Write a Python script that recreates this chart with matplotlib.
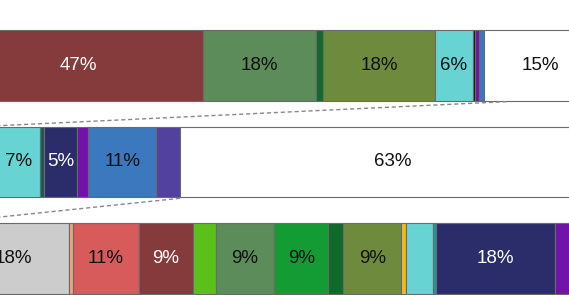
import numpy as np
import matplotlib
matplotlib.use('Agg')
import matplotlib.pyplot as plt

plt.rcParams['font.family'] = ['Liberation Sans', 'DejaVu Sans']

# top bar
top_start = -7.5
top_widths = [40.0, 18.1, 1.1, 17.9, 6.1, 0.3, 0.6, 0.8, 18.0]
top_colors = ['#853a3b', '#5b8c5a', '#106b2b', '#6e8b3d', '#67d3d3', '#111111', '#7112a8', '#3b78bd', '#ffffff']
top_labels = ['47%', '18%', '', '18%', '6%', '', '', '', '15%']

# middle bar
mid_start = -0.6
mid_widths = [7.0, 0.6, 5.3, 1.8, 10.9, 3.8, 68.2]
mid_colors = ['#67d3d3', '#1d5858', '#2b2d6b', '#7112a8', '#3b78bd', '#5341a0', '#ffffff']
mid_labels = ['7%', '', '5%', '', '11%', '', '63%']

# bottom bar
bot_start = -6.6
bot_widths = [17.6, 0.6, 10.6, 8.6, 3.7, 9.4, 8.6, 2.4, 9.3, 0.8, 4.2, 0.6, 19.0, 10.0]
bot_colors = ['#cccccc', '#f4a07a', '#d75b5b', '#853a3b', '#5bc11a', '#5b8c5a', '#139c33', '#106b2b',
              '#6e8b3d', '#f3b81f', '#67d3d3', '#1a9a9a', '#2b2d6b', '#7112a8']
bot_labels = ['18%', '', '11%', '9%', '', '9%', '9%', '', '9%', '', '', '', '18%', '']

dark_fill = ['#853a3b', '#2b2d6b']

bars = [(top_start, top_widths, top_colors, top_labels),
        (mid_start, mid_widths, mid_colors, mid_labels),
        (bot_start, bot_widths, bot_colors, bot_labels)]

fig = plt.figure(figsize=(5.69, 2.95), dpi=100)
ax = fig.add_axes([0, 0, 1, 1])
h = 0.732

for i, (start, widths, colors, labels) in enumerate(bars):
    lefts = start + np.concatenate([[0], np.cumsum(widths)[:-1]])
    ax.barh(i, widths, left=lefts, height=h, color=colors,
            edgecolor='#6a6a6a', linewidth=0.8)
    for l, w, c, lab in zip(lefts, widths, colors, labels):
        if lab:
            tc = 'white' if c in dark_fill else '#111111'
            ax.text(l + w / 2, i, lab, ha='center', va='center',
                    fontsize=13.5, color=tc)

# dashed connector lines
mid_break = mid_start + sum(mid_widths[:6])
ax.plot([81.1, -3.2], [0 + h / 2 + 0.01, 1 - h / 2], ls=(0, (3, 2)), color='#888888', lw=1)
ax.plot([mid_break, -9.6], [1 + h / 2 + 0.01, 2 - h / 2], ls=(0, (3, 2)), color='#888888', lw=1)

ax.set_xlim(0, 569 / 6.25)
ax.set_ylim(2 + (295 - 258.5) / 97, -65.5 / 97)
ax.axis('off')

plt.savefig('out.png', dpi=100)
plt.close(fig)
